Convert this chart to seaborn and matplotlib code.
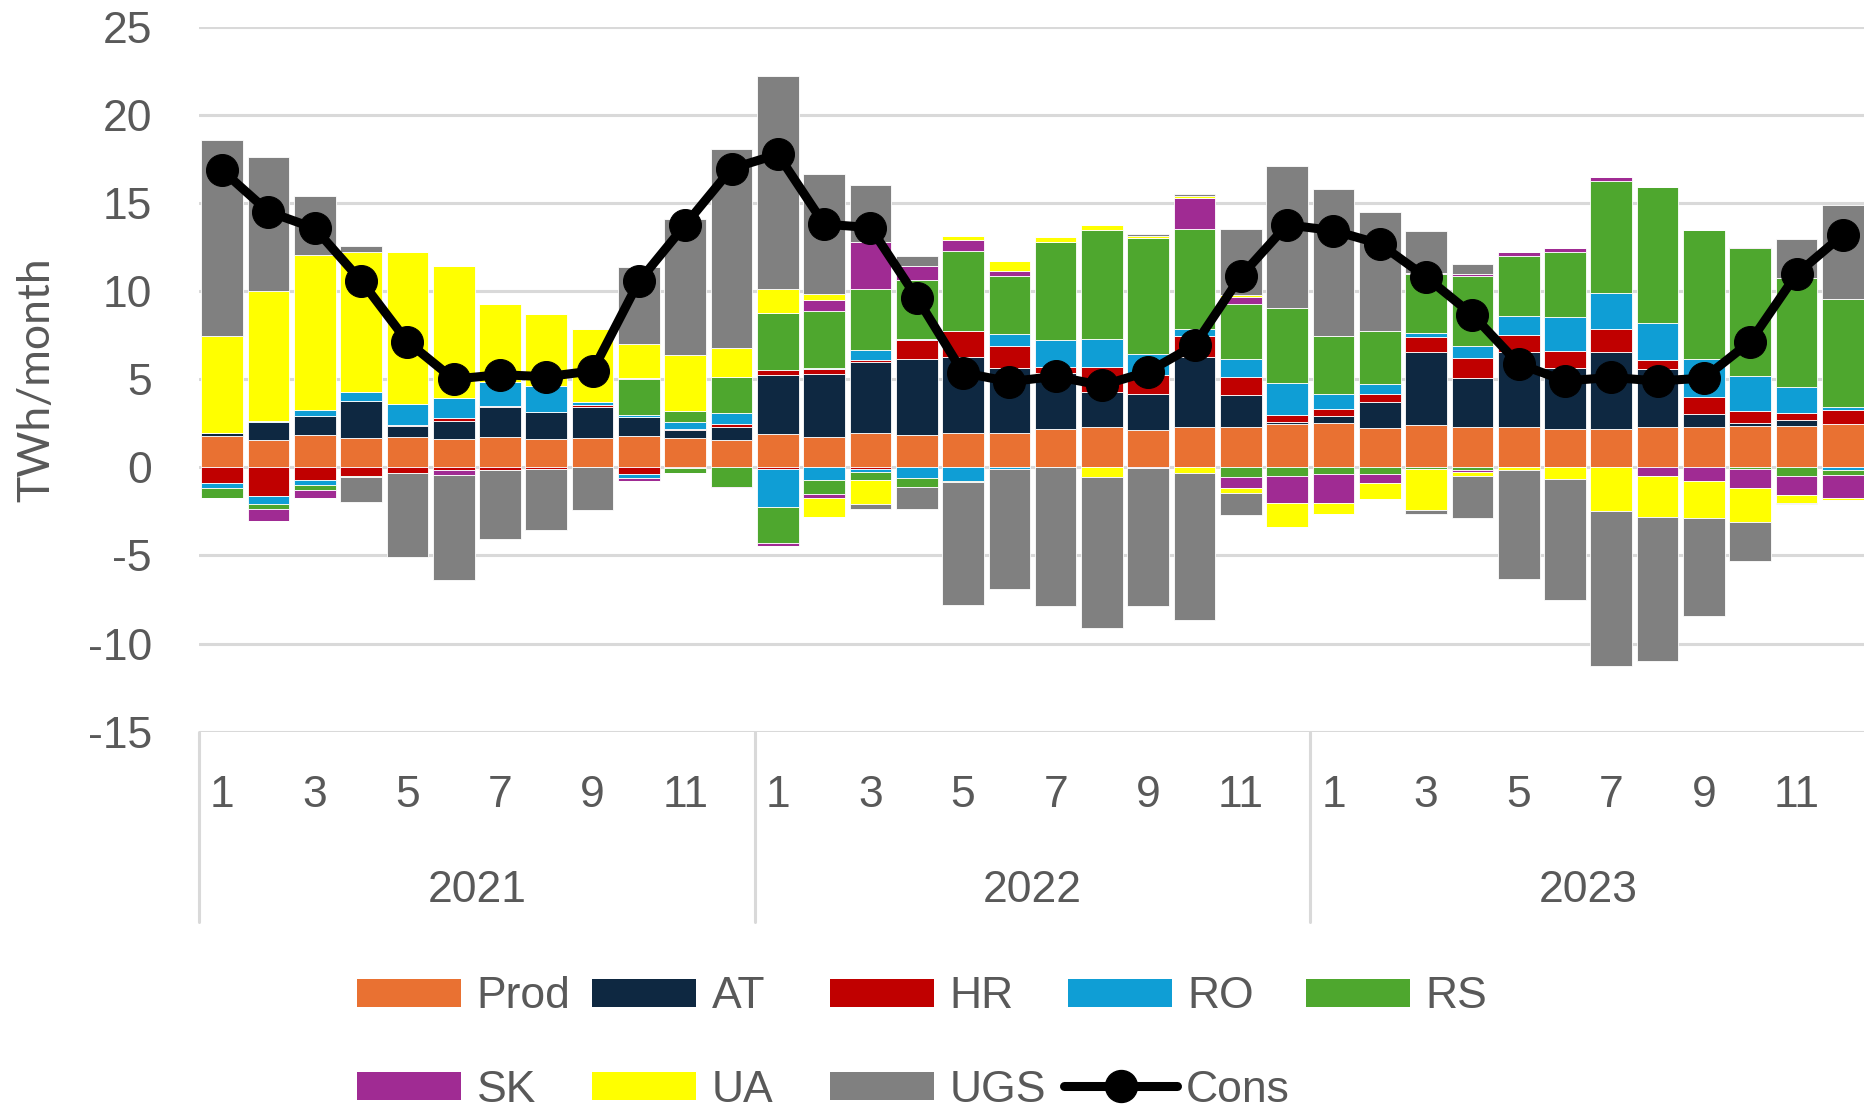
import numpy as np
import pandas as pd
import matplotlib
matplotlib.use("Agg")
import matplotlib.pyplot as plt
from matplotlib.patches import Patch
from matplotlib.lines import Line2D
import matplotlib.transforms as mtransforms
import seaborn as sns

# ---------------- data (TWh/month), Jan 2021 .. Dec 2023 ----------------
years = ["2021", "2022", "2023"]
months = list(range(1, 13))

prod = [1.75, 1.57, 1.81, 1.65, 1.73, 1.60, 1.71, 1.60, 1.65, 1.75, 1.67, 1.57,
        1.91, 1.71, 1.95, 1.81, 1.97, 1.97, 2.15, 2.26, 2.11, 2.26, 2.28, 2.48,
        2.52, 2.22, 2.42, 2.26, 2.26, 2.15, 2.15, 2.26, 2.26, 2.36, 2.32, 2.46]
at_in = [0.22, 1.00, 1.08, 2.09, 0.61, 1.02, 1.73, 1.52, 1.79, 1.12, 0.47, 0.71,
         3.35, 3.56, 4.02, 4.31, 4.31, 3.66, 3.21, 2.03, 2.03, 4.02, 1.83, 0.08,
         0.41, 1.46, 4.11, 2.80, 4.27, 3.48, 4.37, 3.31, 0.77, 0.16, 0.35, 0.00]
hr_in = [0.00, 0.00, 0.00, 0.00, 0.06, 0.16, 0.04, 0.00, 0.08, 0.00, 0.06, 0.18,
         0.28, 0.30, 0.14, 1.08, 1.46, 1.26, 0.35, 1.42, 1.12, 1.18, 1.00, 0.41,
         0.37, 0.47, 0.87, 1.12, 0.98, 0.96, 1.34, 0.50, 0.98, 0.65, 0.43, 0.81]
ro_in = [0.00, 0.04, 0.37, 0.51, 1.18, 1.14, 1.38, 1.48, 0.16, 0.10, 0.35, 0.65,
         0.00, 0.06, 0.57, 0.10, 0.00, 0.69, 1.54, 1.59, 1.16, 0.41, 1.02, 1.79,
         0.85, 0.55, 0.24, 0.71, 1.10, 1.93, 2.03, 2.13, 2.13, 2.03, 1.44, 0.16]
rs_in = [0.00, 0.00, 0.00, 0.00, 0.00, 0.00, 0.00, 0.00, 0.00, 2.05, 0.63, 2.03,
         3.23, 3.25, 3.46, 3.31, 4.53, 3.25, 5.53, 6.14, 6.57, 5.67, 3.15, 4.27,
         3.29, 3.01, 3.31, 3.96, 3.37, 3.72, 6.38, 7.72, 7.34, 7.22, 6.18, 6.10]
sk_in = [0.00, 0.00, 0.00, 0.00, 0.00, 0.00, 0.00, 0.00, 0.00, 0.04, 0.00, 0.00,
         0.00, 0.61, 2.64, 0.81, 0.65, 0.33, 0.00, 0.00, 0.00, 1.73, 0.41, 0.00,
         0.00, 0.00, 0.10, 0.10, 0.24, 0.18, 0.18, 0.00, 0.00, 0.06, 0.00, 0.00]
ua_in = [5.47, 7.40, 8.76, 7.99, 8.64, 7.48, 4.43, 4.09, 4.19, 1.93, 3.21, 1.65,
         1.36, 0.33, 0.00, 0.00, 0.18, 0.57, 0.26, 0.33, 0.12, 0.12, 0.10, 0.00,
         0.00, 0.00, 0.00, 0.00, 0.00, 0.00, 0.00, 0.00, 0.00, 0.00, 0.00, 0.00]
ugs_out = [11.16, 7.62, 3.35, 0.30, 0.00, 0.00, 0.00, 0.00, 0.00, 4.35, 7.72, 11.28,
           12.09, 6.83, 3.25, 0.59, 0.00, 0.00, 0.00, 0.00, 0.14, 0.12, 3.72, 8.09,
           8.35, 6.75, 2.34, 0.61, 0.00, 0.00, 0.00, 0.00, 0.00, 0.00, 2.22, 5.35]

hr_out = [-0.87, -1.65, -0.73, -0.49, -0.30, -0.16, -0.18, -0.12, 0.00, -0.39, -0.04, 0.00,
          -0.10, 0.00, -0.08, 0.00, 0.00, 0.00, 0.00, 0.00, 0.00, 0.00, 0.00, 0.00,
          0.00, 0.00, 0.00, 0.00, 0.00, 0.00, 0.00, 0.00, 0.00, 0.00, 0.00, 0.00]
ro_out = [-0.33, -0.45, -0.26, 0.00, 0.00, 0.00, 0.00, 0.00, 0.00, -0.24, 0.00, 0.00,
          -2.15, -0.73, -0.20, -0.59, -0.77, -0.12, 0.00, 0.00, 0.00, 0.00, 0.00, 0.00,
          0.00, 0.00, 0.00, 0.00, 0.00, 0.00, 0.00, 0.00, 0.00, 0.00, 0.00, -0.18]
rs_out = [-0.55, -0.28, -0.30, -0.06, 0.00, 0.00, 0.00, 0.00, 0.00, 0.00, -0.28, -1.10,
          -2.03, -0.81, -0.45, -0.51, -0.04, 0.00, 0.00, 0.00, 0.00, 0.00, -0.53, -0.47,
          -0.39, -0.39, -0.12, -0.16, 0.00, 0.00, 0.00, 0.00, 0.00, -0.08, -0.47, -0.28]
sk_out = [0.00, -0.69, -0.47, 0.00, 0.00, -0.30, 0.00, 0.00, 0.00, -0.16, 0.00, -0.06,
          -0.20, -0.20, 0.00, 0.00, 0.00, 0.00, 0.00, 0.00, -0.06, 0.00, -0.65, -1.54,
          -1.61, -0.49, 0.00, -0.12, 0.00, 0.00, 0.00, -0.47, -0.75, -1.08, -1.12, -1.28]
ua_out = [0.00, 0.00, 0.00, 0.00, 0.00, 0.00, 0.00, 0.00, 0.00, 0.00, 0.00, 0.00,
          0.00, -1.08, -1.36, -0.04, 0.00, 0.00, 0.00, -0.53, 0.00, -0.33, -0.26, -1.36,
          -0.67, -0.93, -2.28, -0.20, -0.16, -0.67, -2.46, -2.34, -2.15, -1.97, -0.41, -0.10]
ugs_in = [0.00, 0.00, 0.00, -1.44, -4.76, -5.91, -3.86, -3.46, -2.40, 0.00, 0.00, 0.00,
          0.00, 0.00, -0.30, -1.22, -7.01, -6.81, -7.89, -8.57, -7.78, -8.33, -1.26, 0.00,
          0.00, 0.00, -0.26, -2.38, -6.20, -6.83, -8.84, -8.19, -5.55, -2.17, -0.10, 0.00]

cons = [16.85, 14.50, 13.56, 10.59, 7.13, 5.00, 5.26, 5.14, 5.47, 10.55, 13.76, 16.95,
        17.76, 13.80, 13.60, 9.63, 5.37, 4.86, 5.16, 4.65, 5.43, 6.93, 10.85, 13.76,
        13.43, 12.68, 10.79, 8.66, 5.87, 4.90, 5.10, 4.90, 5.06, 7.13, 10.96, 13.19]

series_names = ["Prod", "AT", "HR", "RO", "RS", "SK", "UA", "UGS"]
colors = {"Prod": "#E97132", "AT": "#0E2841", "HR": "#C00000", "RO": "#0F9ED5",
          "RS": "#4EA72E", "SK": "#A02B93", "UA": "#FFFF00", "UGS": "#808080"}

pos_series = [("Prod", prod), ("AT", at_in), ("HR", hr_in), ("RO", ro_in),
              ("RS", rs_in), ("SK", sk_in), ("UA", ua_in), ("UGS", ugs_out)]
neg_series = [("HR", hr_out), ("RO", ro_out), ("RS", rs_out), ("SK", sk_out),
              ("UA", ua_out), ("UGS", ugs_in)]

# ---------------- figure ----------------
sns.set_theme(style="white")
plt.rcParams["font.family"] = ["Liberation Sans", "DejaVu Sans"]
TXT = "#595959"
FS = 32

W, H = 1865, 1111
fig = plt.figure(figsize=(W / 100, H / 100), dpi=100)
ax_left, ax_right = 199, 1866
ax_top, ax_bot = 26.7, 731.7
ax = fig.add_axes([ax_left / W, 1 - ax_bot / H, (ax_right - ax_left) / W, (ax_bot - ax_top) / H])

n = len(cons)
x = np.arange(n)
bw = 0.9

bottom = np.zeros(n)
for name, vals in pos_series:
    v = np.array(vals)
    ax.bar(x, v, bw, bottom=bottom, color=colors[name], edgecolor="white", linewidth=0.6, zorder=2)
    bottom += v
bottom = np.zeros(n)
for name, vals in neg_series:
    v = np.array(vals)
    ax.bar(x, v, bw, bottom=bottom, color=colors[name], edgecolor="white", linewidth=0.6, zorder=2)
    bottom += v

df = pd.DataFrame({"x": x, "Cons": cons})
sns.lineplot(data=df, x="x", y="Cons", ax=ax, color="black", linewidth=6.5,
             marker="o", markersize=23, markeredgecolor="black", zorder=4, legend=False)

ax.set_xlim(-0.5, n - 0.5)
ax.set_ylim(-15, 25)
ax.set_yticks(np.arange(-15, 26, 5))
ax.grid(axis="y", color="#d9d9d9", linewidth=2.2, zorder=0)
ax.grid(axis="x", visible=False)
ax.set_axisbelow(True)
for s in ax.spines.values():
    s.set_visible(False)

ax.tick_params(axis="y", length=0, pad=34, labelsize=FS, labelcolor=TXT)
ax.set_yticklabels([str(v) for v in range(-15, 26, 5)])

xt_labels = [str(m) if m % 2 == 1 else "" for y in years for m in months]
ax.set_xticks(x)
ax.set_xticklabels(xt_labels)
ax.tick_params(axis="x", length=0, pad=31, labelsize=FS, labelcolor=TXT)
ax.set_xlabel("")
ax.set_ylabel("")

trans = mtransforms.blended_transform_factory(ax.transData, ax.transAxes)
ax_h = ax_bot - ax_top
year_y = -(890 - ax_bot) / ax_h
sep_y = -(922 - ax_bot) / ax_h
for i, yr in enumerate(years):
    ax.text(i * 12 + 5.5, year_y, yr, transform=trans, ha="center", va="center",
            fontsize=FS, color=TXT)
for b in [-0.5, 11.5, 23.5, 35.5]:
    ax.plot([b, b], [0, sep_y], transform=trans, color="#d9d9d9", lw=2.2, clip_on=False)

fig.text(37 / W, 1 - 380 / H, "TWh/month", rotation=90, ha="center", va="center",
         fontsize=FS, color=TXT, family=["Lato", "DejaVu Sans"])

# ---------------- legend ----------------
leg_font = {"family": ["Liberation Sans Narrow", "Liberation Sans"], "size": FS}
items = [("Prod", 357, 997), ("AT", 592, 997), ("HR", 830, 997), ("RO", 1068, 997),
         ("RS", 1306, 997), ("SK", 357, 1090), ("UA", 592, 1090), ("UGS", 830, 1090)]
for name, px, py in items:
    h = Patch(facecolor=colors[name], edgecolor="none")
    lg = fig.legend(handles=[h], labels=[name], loc="center left",
                    bbox_to_anchor=(px / W, 1 - py / H), bbox_transform=fig.transFigure,
                    frameon=False, borderpad=0, borderaxespad=0, handlelength=2.35,
                    handleheight=0.6, handletextpad=0.34, prop=leg_font)
    for t in lg.get_texts():
        t.set_color(TXT)
hc = Line2D([], [], color="black", lw=6.5, marker="o", markersize=23, solid_capstyle="round")
lg = fig.legend(handles=[hc], labels=["Cons"], loc="center left",
                bbox_to_anchor=(1064 / W, 1 - 1090 / H), bbox_transform=fig.transFigure,
                frameon=False, borderpad=0, borderaxespad=0, handlelength=2.55,
                handletextpad=0.2, prop=leg_font)
for t in lg.get_texts():
    t.set_color(TXT)

fig.savefig("out.png", dpi=100)
